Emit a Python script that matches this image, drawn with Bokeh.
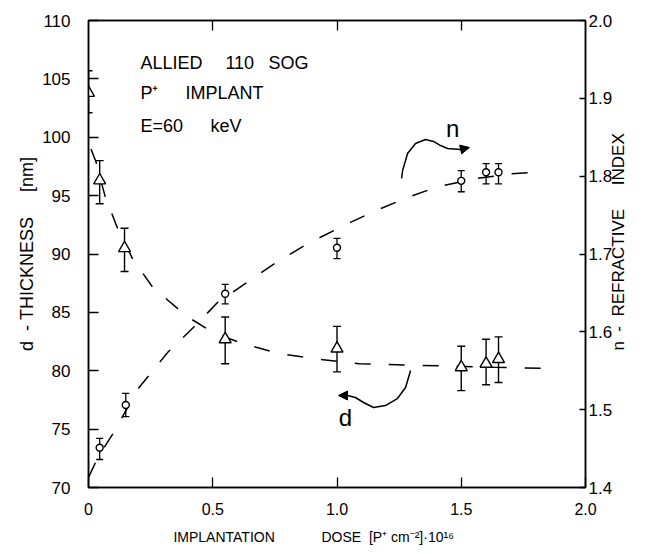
import math
from bokeh.plotting import figure
from bokeh.models import Range1d, LinearAxis, FixedTicker, Label, Arrow, NormalHead
from bokeh.embed import file_html
from bokeh.resources import INLINE

# ---------------- data ----------------
# thickness d (left axis, nm) - triangles
d_x = [0.0, 0.045, 0.145, 0.55, 1.0, 1.5, 1.6, 1.65]
d_y = [103.8, 96.3, 90.5, 82.7, 81.9, 80.3, 80.6, 81.0]
d_lo = [102.1, 94.3, 88.5, 80.6, 79.9, 78.3, 78.8, 79.0]
d_hi = [105.7, 98.0, 92.2, 84.6, 83.8, 82.1, 82.7, 82.9]

# refractive index n (right axis) - circles
n_x = [0.045, 0.15, 0.55, 1.0, 1.5, 1.6, 1.65]
n_y = [1.451, 1.506, 1.649, 1.708, 1.794, 1.805, 1.805]
n_lo = [1.436, 1.491, 1.636, 1.694, 1.780, 1.790, 1.790]
n_hi = [1.463, 1.521, 1.661, 1.720, 1.807, 1.816, 1.816]

# dashed guide curves
d_curve_x = [0.01, 0.03, 0.066, 0.115, 0.177, 0.26, 0.4, 0.5, 0.61, 0.76, 0.92, 1.09, 1.27, 1.45, 1.63, 1.83]
d_curve_y = [99.0, 97.9, 95.0, 92.3, 89.6, 87.1, 84.6, 83.3, 82.4, 81.5, 81.0, 80.6, 80.5, 80.4, 80.3, 80.2]
n_curve_x = [0.0, 0.04, 0.1, 0.2, 0.32, 0.43, 0.52, 0.64, 0.76, 0.88, 1.03, 1.15, 1.28, 1.4, 1.56, 1.7, 1.83]
n_curve_y = [1.413, 1.44, 1.47, 1.527, 1.574, 1.608, 1.638, 1.664, 1.69, 1.713, 1.737, 1.755, 1.772, 1.786, 1.797, 1.803, 1.806]

# annotation arrows (in d units)
n_arrow_x = [1.260, 1.264, 1.284, 1.316, 1.356, 1.388, 1.417, 1.445, 1.497]
n_arrow_y = [96.47, 97.15, 98.61, 99.46, 99.81, 99.64, 99.29, 99.04, 98.95]
d_arrow_x = [1.296, 1.276, 1.243, 1.195, 1.147, 1.107, 1.074, 1.042]
d_arrow_y = [80.02, 78.57, 77.62, 77.02, 76.85, 77.28, 77.71, 77.88]

# ticks
x_ticks = [0, 0.5, 1.0, 1.5, 2.0]
x_tick_labels = ["0", "0.5", "1.0", "1.5", "2.0"]
y_ticks = [70, 75, 80, 85, 90, 95, 100, 105, 110]
y_tick_labels = ["70", "75", "80", "85", "90", "95", "100", "105", "110"]
n_ticks = [1.4, 1.5, 1.6, 1.7, 1.8, 1.9, 2.0]
n_tick_labels = ["1.4", "1.5", "1.6", "1.7", "1.8", "1.9", "2.0"]

FONT = "Liberation Sans"
NB = "\u00a0"

x_title = "IMPLANTATION" + NB * 12 + "DOSE" + NB * 2 + "[P\u207a cm\u207b\u00b2]\u00b710\u00b9\u2076" + NB * 12
y_title = "d" + NB * 2 + "-" + NB + "THICKNESS" + NB * 5 + "[nm]"
n_title = NB * 29 + "n" + NB * 2 + "-" + NB * 2 + "REFRACTIVE" + NB * 5 + "INDEX"

p = figure(width=640, height=548, x_range=Range1d(0, 2.0), y_range=Range1d(70, 110),
           output_backend="svg", toolbar_location=None,
           min_border_left=88, min_border_right=55, min_border_top=20, min_border_bottom=61)
p.extra_y_ranges = {"n": Range1d(1.4, 2.0)}
p.xgrid.visible = False
p.ygrid.visible = False
p.outline_line_color = "black"
p.outline_line_width = 1.5
p.background_fill_color = "white"
p.border_fill_color = "white"


def style(ax, tick_in, standoff, size="17px"):
    ax.axis_line_color = "black"
    ax.axis_line_width = 1.5
    ax.major_tick_in = tick_in
    ax.major_tick_out = 0
    ax.minor_tick_in = 0
    ax.minor_tick_out = 0
    ax.major_tick_line_width = 1.3
    ax.major_tick_line_color = "black"
    ax.major_label_text_font = FONT
    ax.major_label_text_font_size = size
    ax.major_label_text_color = "black"
    ax.major_label_standoff = standoff
    ax.axis_label_text_font = FONT
    ax.axis_label_text_font_style = "normal"
    ax.axis_label_text_color = "black"


xa = p.xaxis[0]
xa.ticker = FixedTicker(ticks=x_ticks)
xa.major_label_overrides = dict(zip(x_ticks, x_tick_labels))
style(xa, 10, 15, "16px")
xa.axis_label = x_title
xa.axis_label_text_font_size = "14px"
xa.axis_label_standoff = 11

ya = p.yaxis[0]
ya.ticker = FixedTicker(ticks=y_ticks)
ya.major_label_overrides = dict(zip(y_ticks, y_tick_labels))
style(ya, 10, 18)
ya.axis_label = y_title
ya.axis_label_text_font_size = "18px"
ya.axis_label_standoff = 2

top = LinearAxis(ticker=FixedTicker(ticks=[0.5, 1.0, 1.5]))
top.major_label_overrides = {0.5: "", 1.0: "", 1.5: ""}
style(top, 10, 0, "1px")
p.add_layout(top, "above")

right = LinearAxis(y_range_name="n", ticker=FixedTicker(ticks=n_ticks))
right.major_label_overrides = dict(zip(n_ticks, n_tick_labels))
style(right, 6, 3)
right.axis_label = n_title
right.axis_label_text_font_size = "17px"
right.axis_label_standoff = 3
try:
    right.axis_label_orientation = math.pi / 2
except Exception:
    pass
try:
    right.axis_label_align = "start"
except Exception:
    pass
p.add_layout(right, "right")

# dashed curves
p.line(d_curve_x, d_curve_y, line_color="black", line_width=1.5, line_dash="16 18")
p.line(n_curve_x, n_curve_y, y_range_name="n", line_color="black", line_width=1.5, line_dash="16 18")

# error bars
p.segment(x0=d_x, y0=d_lo, x1=d_x, y1=d_hi, line_color="black", line_width=1.4)
p.scatter(d_x, d_lo, marker="dash", size=8, line_color="black", line_width=1.4)
p.scatter(d_x, d_hi, marker="dash", size=8, line_color="black", line_width=1.4)
p.segment(x0=n_x, y0=n_lo, x1=n_x, y1=n_hi, y_range_name="n", line_color="black", line_width=1.3)
p.scatter(n_x, n_lo, y_range_name="n", marker="dash", size=7, line_color="black", line_width=1.3)
p.scatter(n_x, n_hi, y_range_name="n", marker="dash", size=7, line_color="black", line_width=1.3)

# markers
p.scatter(d_x, d_y, marker="triangle", size=12, fill_color="white", line_color="black", line_width=1.4)
p.scatter(n_x, n_y, y_range_name="n", marker="circle", size=7, fill_color="white",
          line_color="black", line_width=1.4)

# curved arrows
p.line(n_arrow_x, n_arrow_y, line_color="black", line_width=1.5)
p.add_layout(Arrow(end=NormalHead(size=9, fill_color="black", line_color="black"),
                   x_start=n_arrow_x[-1], y_start=n_arrow_y[-1],
                   x_end=n_arrow_x[-1] + 0.036, y_end=n_arrow_y[-1] + 0.17,
                   line_color="black", line_width=1.5))
p.line(d_arrow_x, d_arrow_y, line_color="black", line_width=1.5)
p.add_layout(Arrow(end=NormalHead(size=9, fill_color="black", line_color="black"),
                   x_start=d_arrow_x[-1], y_start=d_arrow_y[-1],
                   x_end=d_arrow_x[-1] - 0.036, y_end=d_arrow_y[-1],
                   line_color="black", line_width=1.5))


def lab(x, y, t, size="18px", align="left"):
    p.add_layout(Label(x=x, y=y, text=t, text_font=FONT, text_font_size=size,
                       text_align=align, text_baseline="middle", text_color="black"))


# inset text
lab(0.209, 106.4, "ALLIED")
lab(0.551, 106.4, "110")
lab(0.724, 106.4, "SOG")
lab(0.209, 103.83, "P\u207a")
lab(0.390, 103.83, "IMPLANT")
lab(0.209, 101.0, "E=60")
lab(0.491, 101.0, "keV")

# curve labels
lab(1.465, 100.75, "n", "24px", "center")
lab(1.034, 76.0, "d", "24px", "center")

open("out.html", "w").write(file_html(p, INLINE))
